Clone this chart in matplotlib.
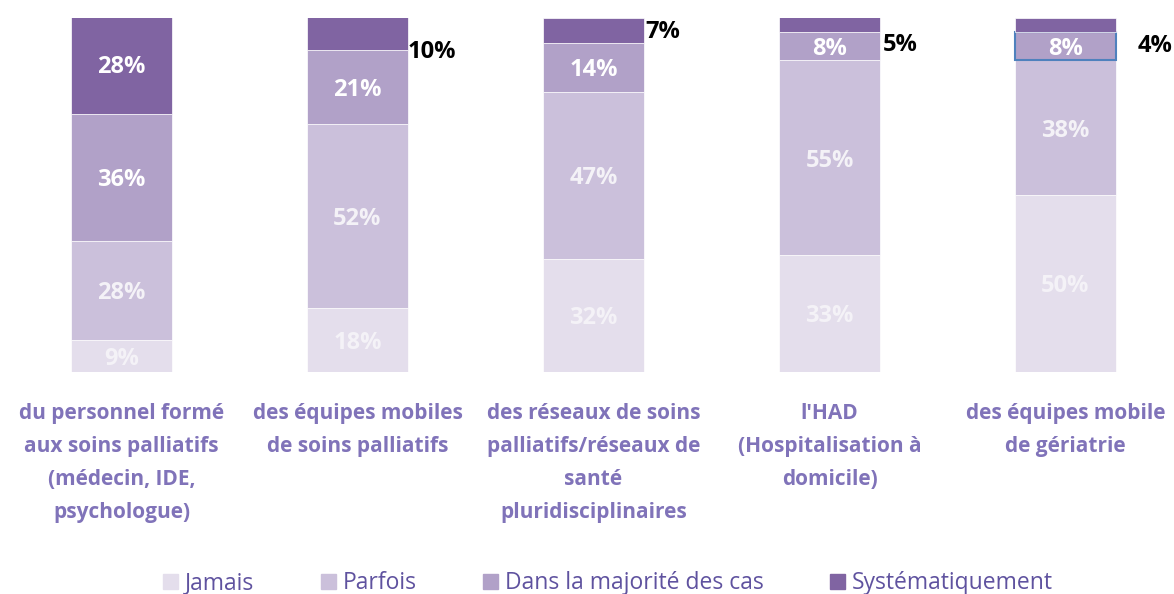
import matplotlib
matplotlib.use("Agg")
import matplotlib.pyplot as plt
import numpy as np

categories = [
    "du personnel formé\naux soins palliatifs\n(médecin, IDE,\npsychologue)",
    "des équipes mobiles\nde soins palliatifs",
    "des réseaux de soins\npalliatifs/réseaux de\nsanté\npluridisciplinaires",
    "l'HAD\n(Hospitalisation à\ndomicile)",
    "des équipes mobile\nde gériatrie",
]
series_names = ["Jamais", "Parfois", "Dans la majorité des cas", "Systématiquement"]
jamais = [9, 18, 32, 33, 50]
parfois = [28, 52, 47, 55, 38]
majorite = [36, 21, 14, 8, 8]
systematique = [28, 10, 7, 5, 4]

colors = ["#E4DEEC", "#CBC0DB", "#B1A1C8", "#8064A2"]
label_colors = ["#F4F2F7", "#F4F2F7", "#FFFFFF", "#FFFFFF"]

plt.rcParams['font.family'] = ['Open Sans', 'DejaVu Sans']

fig = plt.figure(figsize=(11.74, 5.94), dpi=100)
ax = fig.add_axes([0, 1 - 372 / 594, 1, 354 / 594])

x = np.arange(len(categories))
width = 101 / 236
data = [jamais, parfois, majorite, systematique]
bottom = np.zeros(len(categories))
bars_all = []
out_offs = [0, 0.0, 0.004, 0.012, 0.09]
out_y = [0, 90.5, 96, 92.5, 92]
for k, (vals, col) in enumerate(zip(data, colors)):
    vals = np.array(vals, dtype=float)
    bars = ax.bar(x, vals, width, bottom=bottom, color=col, label=series_names[k],
                  edgecolor="white", linewidth=0.5)
    bars_all.append(bars)
    for i, v in enumerate(vals):
        if k == 3 and i > 0:
            ax.text(x[i] + width / 2 + out_offs[i], out_y[i], f"{int(v)}%",
                    ha="left", va="center", fontsize=17, fontweight="bold", color="black")
        else:
            ax.text(x[i], bottom[i] + v / 2 - 0.8, f"{int(v)}%", ha="center", va="center",
                    fontsize=17, fontweight="bold", color=label_colors[k])
    bottom += vals

bars_all[2][4].set_edgecolor("#4F81BD")
bars_all[2][4].set_linewidth(1.5)

ax.set_xlim(-121.5 / 236, (1174 - 121.5) / 236)
ax.set_ylim(0, 100)
for s in ax.spines.values():
    s.set_visible(False)
ax.set_yticks([])
ax.set_xticks(x)
ax.set_xticklabels(categories, fontsize=15, fontweight="bold", color="#8073B9",
                   linespacing=1.75, va="top")
ax.tick_params(axis="x", length=0, pad=22)

handles = [plt.Rectangle((0, 0), 1, 1, color=c) for c in colors]
leg = fig.legend(handles, series_names, loc="center", bbox_to_anchor=(0.518, 0.018),
                 ncol=4, frameon=False, fontsize=16.5, handlelength=0.65, handleheight=0.65,
                 handletextpad=0.3, columnspacing=2.9)
for t in leg.get_texts():
    t.set_color("#5F529F")

fig.savefig("out.png", dpi=100)
